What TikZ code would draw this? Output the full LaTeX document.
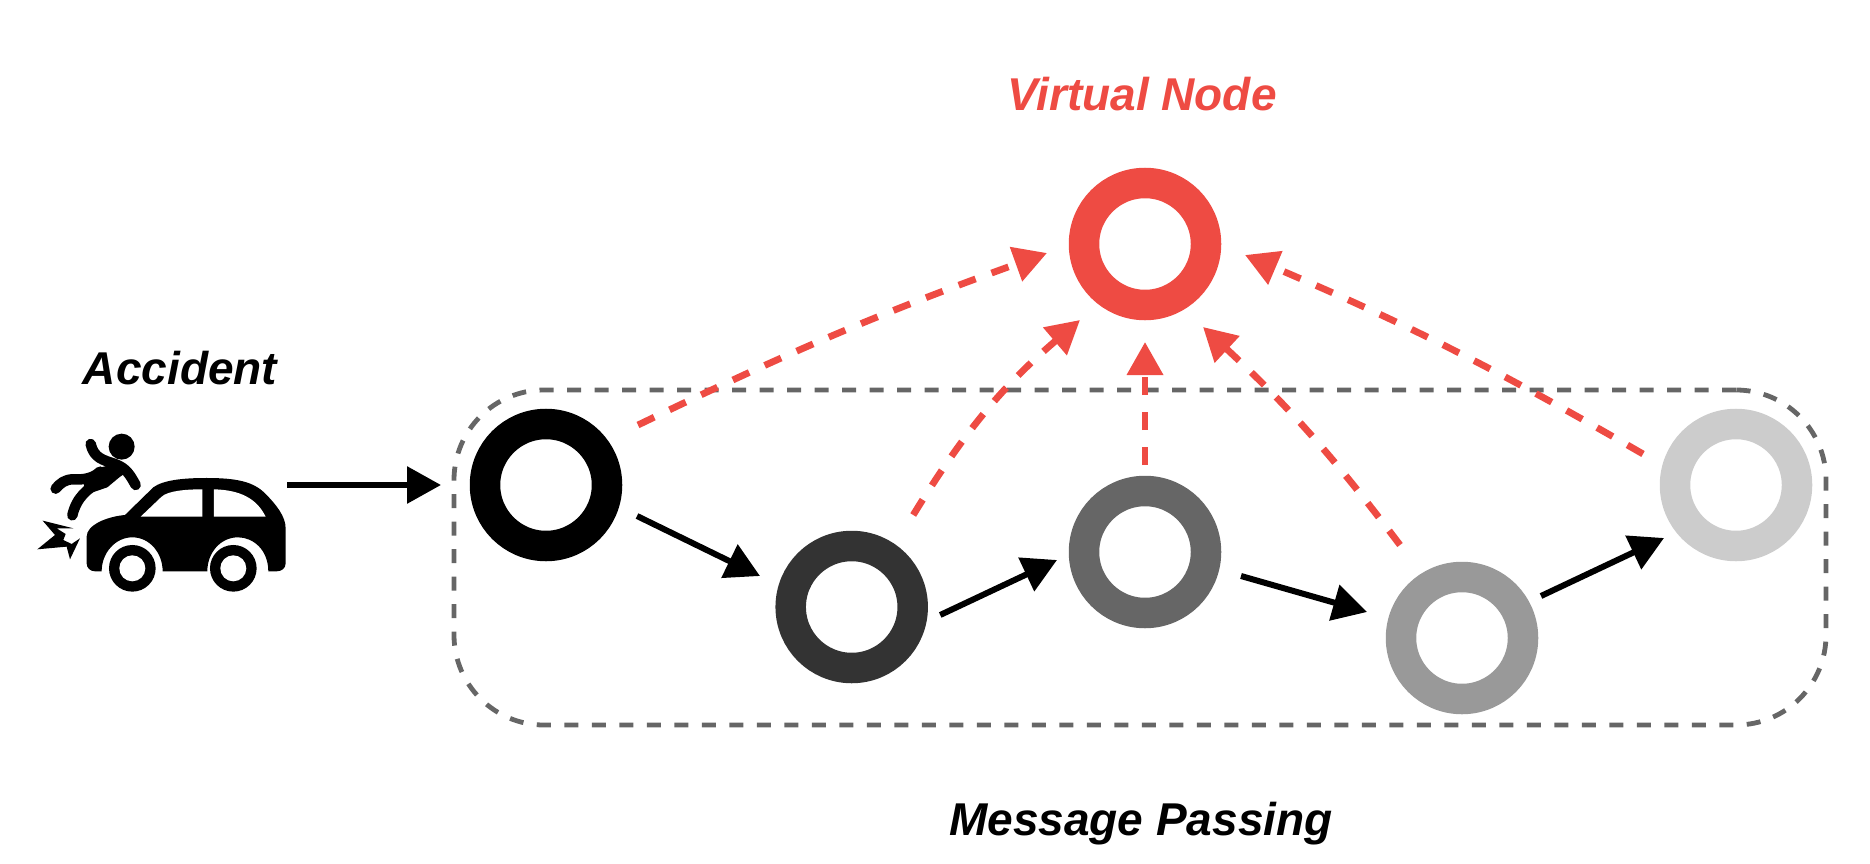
\documentclass[tikz,border=0pt]{standalone}
\usepackage{fontspec}
\setmainfont{Liberation Sans}
\usetikzlibrary{arrows.meta}
\definecolor{vred}{HTML}{EE4B43}
\definecolor{boxgray}{HTML}{666666}
\tikzset{
  ring/.style={circle,draw=#1,fill=white,line width=30.5pt,minimum size=122pt,inner sep=0pt,outer sep=0pt},
  flow/.style={line width=6pt,-{Triangle[length=34pt,width=36pt]}},
  vlink/.style={draw=vred,line width=6.8pt,dash pattern=on 18pt off 17pt,-{Triangle[length=33pt,width=35pt,fill=vred]}},
  groupbox/.style={draw=boxgray,line width=4.8pt,dash pattern=on 14pt off 13.5pt,rounded corners=90pt,minimum width=1372pt,minimum height=335pt,inner sep=0pt,outer sep=0pt},
  caption/.style={font=\fontsize{46}{54}\selectfont\bfseries\itshape,inner sep=0pt},
  limb/.style={line width=10.5pt,line cap=round,line join=round}
}
\begin{document}
\begin{tikzpicture}[x=1pt,y=-1pt]
\useasboundingbox (0,0) rectangle (1870,864);
\node[groupbox] (box) at (1140,557.5) {};
\node[ring=vred] (vn) at (1145,244) {};
\node[ring=black] (n1) at (546,485) {};
\node[ring={black!80}] (n2) at (851.7,607) {};
\node[ring={black!60}] (n3) at (1145,552) {};
\node[ring={black!40}] (n4) at (1462,638) {};
\node[ring={black!20}] (n5) at (1736,485) {};
\node[caption,text=vred] (vlabel) at (1142,94) {Virtual Node};
\node[caption] (alabel) at (180,368) {Accident};
\node[caption] (mlabel) at (1141,824) {Message Passing};
% icon
\begin{scope}[shift={(20,400)},x=0.3333pt,y=-0.3333pt]
  \fill (315,345) -- (400,262) .. controls (430,240) and (490,234) .. (560,234)
    .. controls (650,234) and (700,245) .. (735,280) .. controls (770,315) and (797,350) .. (797,385)
    -- (797,490) .. controls (797,505) and (785,514) .. (770,514) -- (745,514)
    .. controls (745,450) and (700,412) .. (654,412) .. controls (600,412) and (562,460) .. (562,514)
    -- (428,514) .. controls (428,460) and (390,412) .. (337,412) .. controls (285,412) and (245,460) .. (245,514)
    -- (225,514) .. controls (210,514) and (200,503) .. (200,490) -- (200,410)
    .. controls (200,375) and (260,350) .. (315,345) -- cycle;
  \fill[white] (362,350) -- (425,290) .. controls (445,272) and (500,268) .. (547,268) -- (547,350) -- cycle;
  \fill[white] (582,268) .. controls (660,270) and (710,295) .. (737,350) -- (582,350) -- cycle;
  \fill (337,505) circle (70);
  \fill (640,505) circle (70);
  \fill[white] (337,505) circle (39);
  \fill[white] (640,505) circle (39);
  \fill (305,140) circle (39);
  \fill (232,205) -- (290,190) -- (322,215) -- (298,232) -- (262,262) -- (195,285) -- (190,232) -- (222,222) -- cycle;
  \draw[limb] (212,132) .. controls (222,175) and (250,180) .. (285,192) .. controls (320,205) and (330,225) .. (347,255);
  \draw[limb] (240,215) .. controls (220,235) and (190,240) .. (160,238) .. controls (135,238) and (120,250) .. (107,266);
  \draw[limb] (240,245) .. controls (205,265) and (170,290) .. (157,346);
  \fill (68,362) -- (160,385) -- (110,385) -- (137,402) -- (130,420) -- (155,432) -- (180,415) -- (150,478) -- (140,440) -- (52,448) -- (105,405) -- cycle;
\end{scope}
\coordinate (car) at (287,485);
% message passing
\draw[flow] (car) -- ([shift={(-13,-72.5)}]box.west);
\draw[flow] ([shift={(91,31)}]n1.center) -- ([shift={(-91.7,-31)}]n2.center);
\draw[flow] ([shift={(88.5,8)}]n2.center) -- ([shift={(-88,8)}]n3.center);
\draw[flow] ([shift={(96,24)}]n3.center) -- ([shift={(-95,-26)}]n4.center);
\draw[flow] ([shift={(79,-42)}]n4.center) -- ([shift={(-72,53)}]n5.center);
% virtual links
\draw[vlink] ([shift={(92,-60)}]n1.center) to[bend left=3] ([shift={(-98,9)}]vn.center);
\draw[vlink] ([shift={(61.5,-92)}]n2.center) to[bend left=9] ([shift={(-65,76)}]vn.center);
\draw[vlink] ([shift={(0,-87)}]n3.center) -- ([shift={(0,98)}]vn.center);
\draw[vlink] ([shift={(-62,-93)}]n4.center) to[bend right=5] ([shift={(58,83)}]vn.center);
\draw[vlink] ([shift={(-93,-31)}]n5.center) to[bend right=3.5] ([shift={(100,11)}]vn.center);
\end{tikzpicture}
\end{document}
